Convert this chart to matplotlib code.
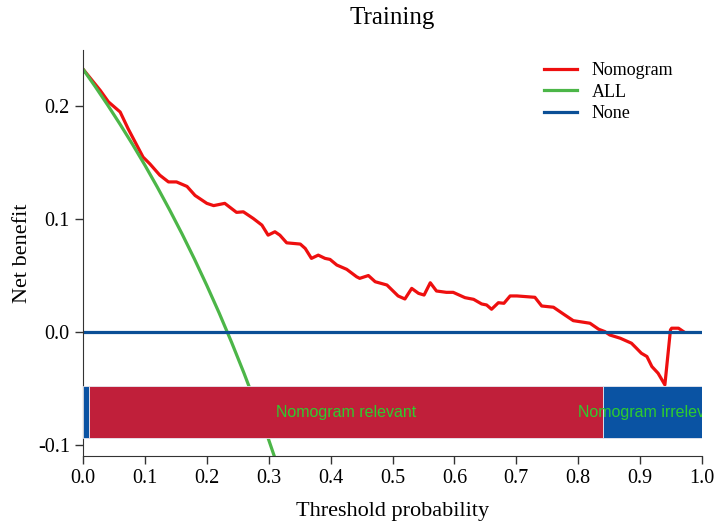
import matplotlib.pyplot as plt
import numpy as np

plt.rcParams['font.family'] = ['Liberation Serif', 'DejaVu Serif']
plt.rcParams['axes.unicode_minus'] = False

# Data
thresh = [0.000, 0.028, 0.041, 0.060, 0.073, 0.097, 0.108, 0.124, 0.138, 0.151,
          0.168, 0.181, 0.200, 0.211, 0.229, 0.248, 0.259, 0.275, 0.289, 0.299,
          0.310, 0.318, 0.329, 0.351, 0.359, 0.369, 0.380, 0.391, 0.399, 0.410,
          0.426, 0.442, 0.447, 0.461, 0.472, 0.491, 0.509, 0.520, 0.531, 0.542,
          0.551, 0.561, 0.571, 0.587, 0.598, 0.617, 0.631, 0.644, 0.652, 0.660,
          0.671, 0.680, 0.690, 0.701, 0.730, 0.741, 0.760, 0.776, 0.792, 0.819,
          0.833, 0.843, 0.851, 0.868, 0.886, 0.894, 0.902, 0.911, 0.919, 0.929,
          0.940, 0.949, 0.951, 0.962, 0.970]
nomogram = [0.233, 0.214, 0.204, 0.195, 0.180, 0.155, 0.149, 0.139, 0.133, 0.133,
            0.129, 0.121, 0.114, 0.112, 0.114, 0.106, 0.1065, 0.1006, 0.0947, 0.0858,
            0.0888, 0.0858, 0.0790, 0.0779, 0.0740, 0.0652, 0.0681, 0.0652, 0.0643, 0.0593,
            0.0555, 0.0489, 0.0475, 0.0500, 0.0445, 0.0416, 0.0319, 0.0292, 0.0386, 0.0342,
            0.0327, 0.0436, 0.0363, 0.0351, 0.0351, 0.0304, 0.0289, 0.0248, 0.0239, 0.0201,
            0.0259, 0.0254, 0.0319, 0.0319, 0.0307, 0.0230, 0.0219, 0.0159, 0.0100, 0.0077,
            0.0024, 0.0003, -0.0027, -0.0056, -0.0100, -0.0144, -0.0189, -0.0218, -0.0307, -0.0366,
            -0.0469, 0.0018, 0.0033, 0.0033, 0.0003]

all_thresh = [0.00, 0.02, 0.04, 0.06, 0.08, 0.10, 0.12, 0.14, 0.16, 0.18,
              0.20, 0.22, 0.24, 0.26, 0.28, 0.30, 0.32]
all_nb = [0.233, 0.2173, 0.2010, 0.1840, 0.1663, 0.1478, 0.1284, 0.1081, 0.0869, 0.0646,
          0.0412, 0.0167, -0.0092, -0.0365, -0.0653, -0.0957, -0.1279]

none_thresh = [0.0, 1.0]
none_nb = [0.0, 0.0]

# relevance bar segments
seg_start = [0.00, 0.01, 0.84]
seg_end = [0.01, 0.84, 1.00]
seg_color = ['#0a53a3', '#c01f3a', '#0a53a3']
seg_text = ['', 'Nomogram relevant', 'Nomogram irrelevant']
bar_low, bar_high = -0.094, -0.048

fig = plt.figure(figsize=(7.17, 5.26), dpi=100)
ax = fig.add_axes([0.1158, 0.1331, 0.8633, 0.7719])

ax.plot(thresh, nomogram, color='#ee0f0f', lw=2.3, label='Nomogram')
ax.plot(all_thresh, all_nb, color='#4cb648', lw=2.3, label='ALL')
ax.plot(none_thresh, none_nb, color='#0b4f96', lw=2.3, label='None')

for s, e, c, t in zip(seg_start, seg_end, seg_color, seg_text):
    ax.barh((bar_low + bar_high) / 2, e - s, height=bar_high - bar_low, left=s,
            color=c, edgecolor='#e8e8f0', linewidth=0.6, zorder=4)
    if t:
        # the last label runs past the axis edge and is clipped, as in the original
        ax.text((s + e) / 2, (bar_low + bar_high) / 2, t, ha='center', va='center',
                color='#2ecc2e', fontsize=11.5, family=['Liberation Sans'],
                zorder=5, clip_on=True)

ax.set_xlim(0, 1)
ax.set_ylim(-0.11, 0.25)
ax.set_xticks(np.arange(0, 1.01, 0.1))
ax.set_xticklabels([f'{v:.1f}' for v in np.arange(0, 1.01, 0.1)])
ax.set_yticks([-0.1, 0.0, 0.1, 0.2])
ax.set_yticklabels(['-0.1', '0.0', '0.1', '0.2'])
ax.tick_params(labelsize=14.5, length=6, width=1, color='#333333')

ax.spines['top'].set_visible(False)
ax.spines['right'].set_visible(False)
ax.spines['left'].set_color('#333333')
ax.spines['bottom'].set_color('#333333')

ax.set_xlabel('Threshold probability', fontsize=16, labelpad=10)
ax.set_ylabel('Net benefit', fontsize=16, labelpad=4)
ax.set_title('Training', fontsize=18, pad=19)

ax.legend(loc='upper right', bbox_to_anchor=(0.98, 1.01), frameon=False, fontsize=13,
          handlelength=1.85, labelspacing=0.25)

plt.savefig('out.png')
